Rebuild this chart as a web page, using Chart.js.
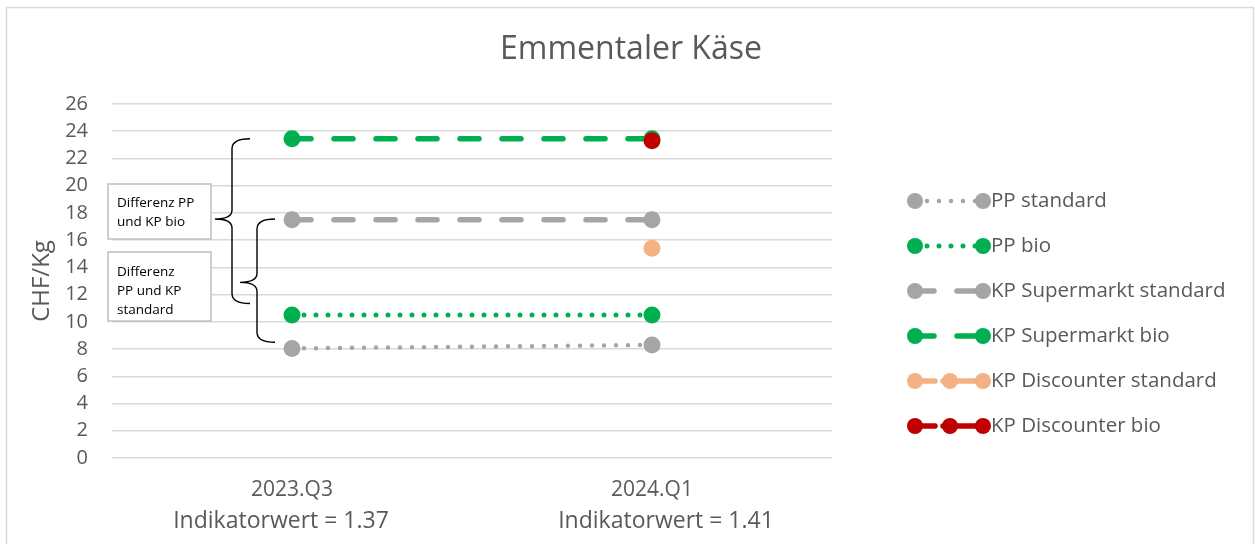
<!DOCTYPE html>
<html>
<head>
<meta charset="utf-8">
<script src="https://cdn.jsdelivr.net/npm/chart.js@4/dist/chart.umd.min.js"></script>
<style>
html,body{margin:0;padding:0;background:#fff;}
canvas{display:block;}
</style>
</head>
<body>
<canvas id="c" width="1255" height="544"></canvas>
<script>
const categories = ["2023.Q3", "2024.Q1"];
const indicatorLabels = ["Indikatorwert = 1.37", "Indikatorwert = 1.41"];
const ppStandard = [8.05, 8.3];
const ppBio = [10.5, 10.5];
const kpSupermarktStandard = [17.5, 17.5];
const kpSupermarktBio = [23.45, 23.45];
const kpDiscounterStandard = [null, 15.4];
const kpDiscounterBio = [null, 23.3];
const yTicks = {min: 0, max: 26, step: 2};
const seriesNames = ["PP standard", "PP bio", "KP Supermarkt standard", "KP Supermarkt bio", "KP Discounter standard", "KP Discounter bio"];
const chartTitle = "Emmentaler Käse";
const annotations = [
  {lines: ["Differenz PP", "und KP bio"]},
  {lines: ["Differenz", "PP und KP", "standard"]}
];

const GRAY = '#a5a5a5', GREEN = '#00b050', PEACH = '#f4b183', RED = '#c00000';
const TXT = '#595959';
const FONT = "'Open Sans', 'Noto Sans', sans-serif";

function ds(label, data, color, width, dash, order, legendDash, legendMid) {
  return {
    label, data, borderColor: color, backgroundColor: color,
    pointBackgroundColor: color, pointBorderColor: color,
    pointRadius: 8.5, pointHoverRadius: 8.5, pointBorderWidth: 0,
    borderWidth: width, borderDash: dash, borderCapStyle: 'round',
    fill: false, tension: 0, order,
    legendDash: legendDash || dash, legendMid: !!legendMid
  };
}

const datasets = [
  ds(seriesNames[0], ppStandard, GRAY, 4.5, [0, 12], 5),
  ds(seriesNames[1], ppBio, GREEN, 5, [0, 12], 4),
  ds(seriesNames[2], kpSupermarktStandard, GRAY, 5.5, [19, 23], 3),
  ds(seriesNames[3], kpSupermarktBio, GREEN, 5.5, [19, 23], 2),
  ds(seriesNames[4], kpDiscounterStandard, PEACH, 5.5, [], 1, [20, 8, 200], true),
  ds(seriesNames[5], kpDiscounterBio, RED, 5.5, [], 0, [20, 8, 200], true)
];

const decor = {
  id: 'decor',
  beforeDraw(chart) {
    const ctx = chart.ctx;
    ctx.save();
    ctx.fillStyle = '#fff';
    ctx.fillRect(0, 0, chart.width, chart.height);
    ctx.strokeStyle = '#d9d9d9';
    ctx.lineWidth = 1.5;
    ctx.beginPath();
    ctx.moveTo(6.5, chart.height + 5);
    ctx.lineTo(6.5, 7.5);
    ctx.lineTo(1253.5, 7.5);
    ctx.lineTo(1253.5, chart.height + 5);
    ctx.stroke();
    // title
    ctx.fillStyle = TXT;
    ctx.font = "32px " + FONT;
    ctx.textAlign = 'center';
    ctx.textBaseline = 'middle';
    ctx.fillText(chartTitle, 631, 50);
    // second line of x labels
    const xs = chart.scales.x;
    const shift = [-11, 14];
    ctx.font = "23px " + FONT;
    indicatorLabels.forEach((t, i) => ctx.fillText(t, xs.getPixelForTick(i) + shift[i], 521));
    ctx.restore();
  },
  afterDatasetsDraw(chart) {
    const ctx = chart.ctx;
    const y = chart.scales.y;
    ctx.save();
    function brace(x, xEnd, xTip, top, mid, bottom) {
      ctx.beginPath();
      ctx.moveTo(xEnd, top);
      ctx.quadraticCurveTo(x, top, x, top + 10);
      ctx.lineTo(x, mid - 9);
      ctx.quadraticCurveTo(x, mid, xTip, mid);
      ctx.quadraticCurveTo(x, mid, x, mid + 9);
      ctx.lineTo(x, bottom - 10);
      ctx.quadraticCurveTo(x, bottom, xEnd, bottom);
      ctx.stroke();
    }
    ctx.strokeStyle = '#000';
    ctx.lineWidth = 1.4;
    brace(232, 250, 215, y.getPixelForValue(23.45), y.getPixelForValue(17.55), y.getPixelForValue(11.35));
    brace(257, 275, 240, y.getPixelForValue(17.55), y.getPixelForValue(12.9), y.getPixelForValue(8.5));
    const boxes = [{x: 108, y: 184, w: 103, h: 55, off: 19}, {x: 108, y: 252, w: 103, h: 69, off: 20}];
    ctx.font = "13.5px " + FONT;
    ctx.textBaseline = 'middle';
    ctx.textAlign = 'left';
    boxes.forEach((b, i) => {
      ctx.fillStyle = '#fff';
      ctx.fillRect(b.x, b.y, b.w, b.h);
      ctx.strokeStyle = '#bfbfbf';
      ctx.lineWidth = 1.5;
      ctx.strokeRect(b.x, b.y, b.w, b.h);
      ctx.fillStyle = '#000';
      annotations[i].lines.forEach((t, j) => ctx.fillText(t, 117, b.y + b.off + j * 19));
    });
    ctx.restore();
  },
  afterDraw(chart) {
    const ctx = chart.ctx;
    ctx.save();
    const x0 = 915, x1 = 983, yStart = 201, gap = 45;
    chart.data.datasets.forEach((d, i) => {
      const yy = yStart + i * gap;
      ctx.strokeStyle = d.borderColor;
      ctx.lineWidth = d.borderWidth;
      ctx.lineCap = 'round';
      ctx.setLineDash(d.legendDash);
      ctx.beginPath();
      ctx.moveTo(x0, yy);
      ctx.lineTo(x1, yy);
      ctx.stroke();
      ctx.setLineDash([]);
      ctx.fillStyle = d.backgroundColor;
      const pts = d.legendMid ? [x0, 950, x1] : [x0, x1];
      pts.forEach(px => { ctx.beginPath(); ctx.arc(px, yy, 8, 0, Math.PI * 2); ctx.fill(); });
      ctx.fillStyle = TXT;
      ctx.font = "20.5px " + FONT;
      ctx.textBaseline = 'middle';
      ctx.textAlign = 'left';
      ctx.fillText(d.label, 991, yy);
    });
    ctx.restore();
  }
};

new Chart(document.getElementById('c'), {
  type: 'line',
  data: {labels: categories, datasets},
  options: {
    responsive: false,
    devicePixelRatio: 1,
    animation: false,
    events: [],
    layout: {padding: {left: 20, right: 423, top: 104, bottom: 0}},
    plugins: {
      legend: {display: false},
      tooltip: {enabled: false},
      title: {display: false}
    },
    scales: {
      x: {
        offset: true,
        grid: {display: false, drawTicks: false},
        border: {display: false},
        ticks: {color: TXT, font: {family: FONT, size: 21, lineHeight: 1.2}, padding: 19, maxRotation: 0, autoSkip: false},
        afterFit(scale) { scale.height = 86; }
      },
      y: {
        min: yTicks.min, max: yTicks.max,
        grid: {color: '#d9d9d9', lineWidth: 1.5, drawTicks: false},
        border: {display: false},
        ticks: {stepSize: yTicks.step, color: TXT, font: {family: FONT, size: 20}, padding: 24},
        title: {display: true, text: 'CHF/Kg', color: TXT, font: {family: FONT, size: 24, lineHeight: 1.2}, padding: {top: 7.6, bottom: 0}},
        afterFit(scale) { scale.width = 92; }
      }
    }
  },
  plugins: [decor]
});
</script>
</body>
</html>
